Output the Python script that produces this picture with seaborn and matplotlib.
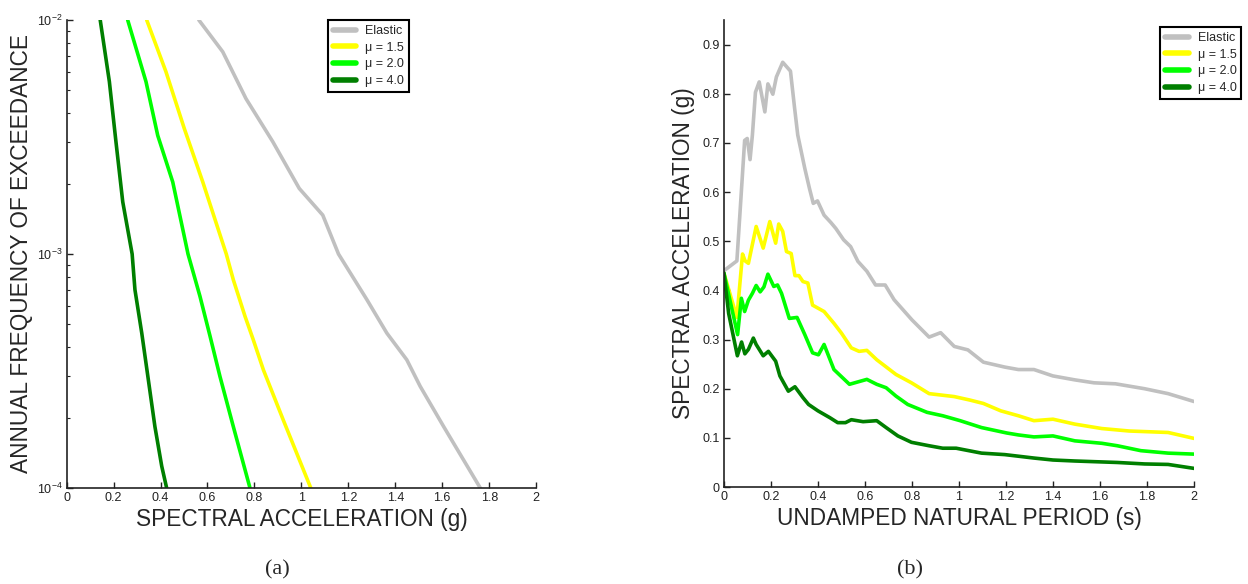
import matplotlib
import matplotlib.pyplot as plt
import numpy as np
import pandas as pd
import seaborn as sns
from matplotlib.ticker import FuncFormatter, LogLocator, MultipleLocator, NullFormatter

matplotlib.use("Agg")

LABELS = ["Elastic", "\u03bc = 1.5", "\u03bc = 2.0", "\u03bc = 4.0"]
COLORS = ["#c0c0c0", "#ffff00", "#00ff00", "#007f00"]

# (a) hazard curves: spectral acceleration (g) vs annual frequency of exceedance
HAZ_ELASTIC_SA = [0.563, 0.665, 0.764, 0.878, 0.991, 1.091, 1.158, 1.279, 1.364, 1.449, 1.506, 1.606, 1.762]
HAZ_ELASTIC_F = [1.0e-2, 7.31e-3, 4.61e-3, 3.02e-3, 1.905e-3, 1.466e-3, 1.0e-3, 6.38e-4, 4.59e-4, 3.53e-4,
                 2.72e-4, 1.83e-4, 1.0e-4]
HAZ_MU15_SA = [0.341, 0.423, 0.501, 0.58, 0.68, 0.71, 0.76, 0.795, 0.838, 0.923, 1.04]
HAZ_MU15_F = [1.0e-2, 6.01e-3, 3.44e-3, 2.03e-3, 1.0e-3, 7.76e-4, 5.41e-4, 4.30e-4, 3.2e-4, 1.95e-4, 1.0e-4]
HAZ_MU20_SA = [0.26, 0.338, 0.388, 0.452, 0.517, 0.568, 0.611, 0.653, 0.71, 0.781]
HAZ_MU20_F = [1.0e-2, 5.45e-3, 3.21e-3, 2.03e-3, 1.0e-3, 6.59e-4, 4.45e-4, 3.0e-4, 1.83e-4, 1.0e-4]
HAZ_MU40_SA = [0.143, 0.182, 0.21, 0.239, 0.279, 0.291, 0.32, 0.348, 0.376, 0.405, 0.426]
HAZ_MU40_F = [1.0e-2, 5.45e-3, 3.02e-3, 1.67e-3, 1.0e-3, 7.03e-4, 4.59e-4, 2.9e-4, 1.83e-4, 1.24e-4, 1.0e-4]

# (b) spectra: period (s) vs spectral acceleration (g)
SP_ELASTIC_T = [0, 0.055, 0.074, 0.088, 0.099, 0.111, 0.121, 0.134, 0.15, 0.174, 0.187, 0.208, 0.223, 0.25,
                0.283, 0.30, 0.314, 0.344, 0.364, 0.38, 0.398, 0.426, 0.455, 0.476, 0.509, 0.539, 0.57, 0.608,
                0.645, 0.686, 0.724, 0.8, 0.873, 0.922, 0.98, 1.038, 1.104, 1.195, 1.253, 1.319, 1.40, 1.493,
                1.575, 1.666, 1.79, 1.89, 2.0]
SP_ELASTIC_SA = [0.44, 0.46, 0.601, 0.705, 0.709, 0.666, 0.716, 0.803, 0.824, 0.763, 0.82, 0.799, 0.834, 0.864,
                 0.846, 0.773, 0.716, 0.648, 0.607, 0.577, 0.582, 0.553, 0.538, 0.526, 0.503, 0.489, 0.459, 0.439,
                 0.411, 0.411, 0.381, 0.34, 0.305, 0.314, 0.286, 0.279, 0.254, 0.244, 0.239, 0.239, 0.226, 0.218,
                 0.212, 0.21, 0.20, 0.19, 0.174]
SP_MU15_T = [0, 0.055, 0.079, 0.09, 0.104, 0.137, 0.167, 0.195, 0.22, 0.233, 0.25, 0.266, 0.286, 0.302, 0.319,
             0.336, 0.357, 0.377, 0.426, 0.468, 0.5, 0.542, 0.575, 0.608, 0.65, 0.732, 0.798, 0.873, 0.98, 1.046,
             1.104, 1.178, 1.253, 1.319, 1.40, 1.493, 1.608, 1.724, 1.89, 2.0]
SP_MU15_SA = [0.435, 0.345, 0.474, 0.46, 0.455, 0.53, 0.486, 0.54, 0.496, 0.535, 0.52, 0.479, 0.475, 0.43, 0.43,
              0.418, 0.415, 0.37, 0.357, 0.333, 0.313, 0.283, 0.276, 0.278, 0.259, 0.229, 0.212, 0.19, 0.184, 0.177,
              0.17, 0.155, 0.145, 0.135, 0.138, 0.128, 0.119, 0.114, 0.111, 0.099]
SP_MU20_T = [0, 0.058, 0.074, 0.088, 0.104, 0.121, 0.137, 0.154, 0.17, 0.187, 0.212, 0.228, 0.245, 0.278, 0.311,
             0.344, 0.377, 0.402, 0.426, 0.468, 0.534, 0.608, 0.65, 0.69, 0.732, 0.782, 0.864, 0.931, 1.005, 1.096,
             1.203, 1.253, 1.319, 1.40, 1.493, 1.608, 1.674, 1.774, 1.89, 2.0]
SP_MU20_SA = [0.435, 0.31, 0.384, 0.357, 0.38, 0.394, 0.41, 0.397, 0.407, 0.433, 0.408, 0.411, 0.394, 0.343, 0.345,
              0.31, 0.273, 0.269, 0.29, 0.239, 0.209, 0.219, 0.209, 0.202, 0.185, 0.168, 0.152, 0.145, 0.135, 0.121,
              0.11, 0.106, 0.102, 0.104, 0.094, 0.089, 0.084, 0.074, 0.069, 0.067]
SP_MU40_T = [0, 0.02, 0.057, 0.075, 0.089, 0.104, 0.125, 0.137, 0.167, 0.189, 0.22, 0.238, 0.274, 0.302, 0.336,
             0.36, 0.40, 0.451, 0.484, 0.517, 0.542, 0.592, 0.65, 0.69, 0.74, 0.798, 0.873, 0.931, 0.988, 1.096,
             1.195, 1.319, 1.40, 1.493, 1.674, 1.79, 1.89, 2.0]
SP_MU40_SA = [0.435, 0.353, 0.267, 0.295, 0.271, 0.28, 0.303, 0.29, 0.267, 0.276, 0.256, 0.226, 0.195, 0.204, 0.182,
              0.168, 0.155, 0.141, 0.131, 0.131, 0.137, 0.133, 0.135, 0.121, 0.104, 0.091, 0.084, 0.079, 0.079, 0.069,
              0.066, 0.059, 0.055, 0.053, 0.05, 0.047, 0.046, 0.038]


def long_frame(xs, ys, xname, yname):
    parts = []
    for label, x, y in zip(LABELS, xs, ys):
        parts.append(pd.DataFrame({xname: x, yname: y, "case": label}))
    return pd.concat(parts, ignore_index=True)


def style_axes(ax):
    ax.spines["top"].set_visible(False)
    ax.spines["right"].set_visible(False)
    for side in ["left", "bottom"]:
        ax.spines[side].set_linewidth(1.2)
        ax.spines[side].set_color("#222222")
    ax.tick_params(axis="both", which="both", direction="in", bottom=True, left=True,
                   labelsize=9, colors="#222222")
    ax.tick_params(axis="both", which="major", length=4, width=1, pad=3)
    ax.tick_params(axis="both", which="minor", length=2.5, width=0.8)
    ax.grid(False)


def add_legend(ax, anchor):
    leg = ax.legend(
        loc="upper left",
        bbox_to_anchor=anchor,
        borderaxespad=0,
        frameon=True,
        fancybox=False,
        handlelength=1.9,
        handletextpad=0.7,
        labelspacing=0.38,
        borderpad=0.4,
        fontsize=9,
    )
    leg.get_frame().set_edgecolor("black")
    leg.get_frame().set_linewidth(1.5)
    leg.get_frame().set_alpha(1)
    for line in leg.get_lines():
        line.set_linewidth(4)


sns.set_style("white")
plt.rcParams["font.family"] = ["Liberation Sans", "DejaVu Sans"]
plt.rcParams["mathtext.fontset"] = "custom"
plt.rcParams["mathtext.rm"] = "Liberation Sans"

fig = plt.figure(figsize=(12.48, 5.84), dpi=100)
ax_a = fig.add_axes([0.0534, 0.1644, 0.3762, 0.8014])
ax_b = fig.add_axes([0.5801, 0.1660, 0.3766, 0.7998])
palette = dict(zip(LABELS, COLORS))

haz = long_frame(
    [HAZ_ELASTIC_SA, HAZ_MU15_SA, HAZ_MU20_SA, HAZ_MU40_SA],
    [HAZ_ELASTIC_F, HAZ_MU15_F, HAZ_MU20_F, HAZ_MU40_F],
    "sa", "freq",
)
sns.lineplot(data=haz, x="sa", y="freq", hue="case", palette=palette, hue_order=LABELS,
             sort=False, estimator=None, linewidth=2.6, ax=ax_a)
ax_a.set_yscale("log")
ax_a.set_xlim(0, 2)
ax_a.set_ylim(1e-4, 1e-2)
ax_a.xaxis.set_major_locator(MultipleLocator(0.2))
ax_a.xaxis.set_major_formatter(FuncFormatter(lambda v, p: f"{v:g}"))
ax_a.yaxis.set_major_locator(LogLocator(base=10, numticks=5))
ax_a.yaxis.set_minor_locator(LogLocator(base=10, subs=np.arange(2, 10), numticks=20))
ax_a.yaxis.set_minor_formatter(NullFormatter())
style_axes(ax_a)
ax_a.set_xlabel("SPECTRAL ACCELERATION (g)", fontsize=16.3, labelpad=3)
ax_a.set_ylabel("ANNUAL FREQUENCY OF EXCEEDANCE", fontsize=16.3, labelpad=3)
add_legend(ax_a, (0.556, 1.0))

spec = long_frame(
    [SP_ELASTIC_T, SP_MU15_T, SP_MU20_T, SP_MU40_T],
    [SP_ELASTIC_SA, SP_MU15_SA, SP_MU20_SA, SP_MU40_SA],
    "period", "sa",
)
sns.lineplot(data=spec, x="period", y="sa", hue="case", palette=palette, hue_order=LABELS,
             sort=False, estimator=None, linewidth=2.6, ax=ax_b)
ax_b.set_xlim(0, 2)
ax_b.set_ylim(0, 0.95)
ax_b.xaxis.set_major_locator(MultipleLocator(0.2))
ax_b.yaxis.set_major_locator(MultipleLocator(0.1))
ax_b.xaxis.set_major_formatter(FuncFormatter(lambda v, p: f"{v:g}"))
ax_b.yaxis.set_major_formatter(FuncFormatter(lambda v, p: f"{v:g}"))
style_axes(ax_b)
ax_b.set_xlabel("UNDAMPED NATURAL PERIOD (s)", fontsize=16.3, labelpad=3)
ax_b.set_ylabel("SPECTRAL ACCELERATION (g)", fontsize=16.3, labelpad=5)
add_legend(ax_b, (0.928, 0.985))

fig.text(0.222, 0.024, "(a)", ha="center", va="center", fontsize=16,
         family=["Liberation Serif", "DejaVu Serif"])
fig.text(0.729, 0.024, "(b)", ha="center", va="center", fontsize=16,
         family=["Liberation Serif", "DejaVu Serif"])

fig.savefig("out.png", dpi=100)
